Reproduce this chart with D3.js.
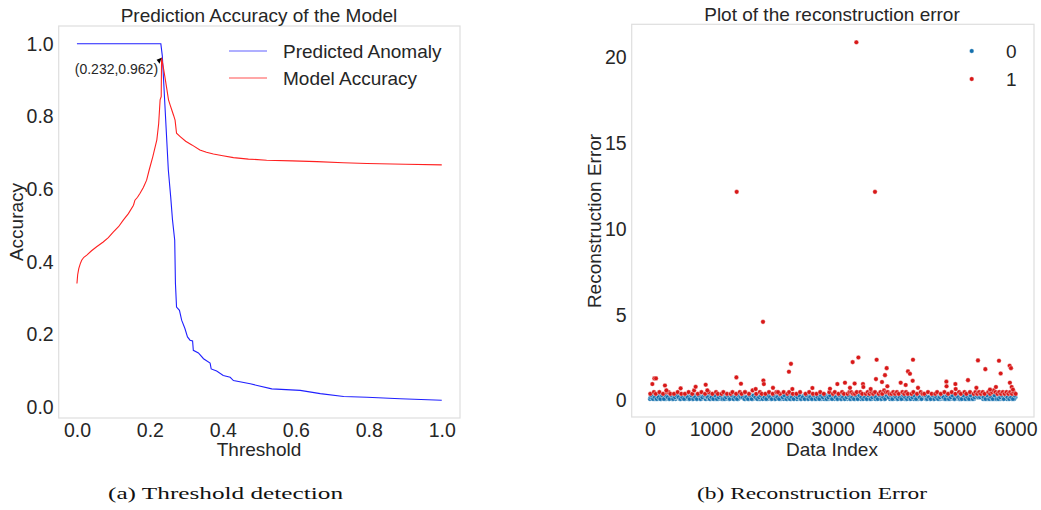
<!DOCTYPE html>
<html>
<head>
<meta charset="utf-8">
<script src="https://cdn.jsdelivr.net/npm/d3@7"></script>
<style>
  body { margin: 0; background: #fff; }
  svg text { font-family: "Liberation Sans", Arial, sans-serif; fill: #262626; }
</style>
</head>
<body>
<div id="chart"></div>
<script>
// ---- panel (a): threshold curves ----
var anomThr = [0, 0.230, 0.234, 0.2505, 0.257, 0.262, 0.268, 0.270, 0.273, 0.281, 0.287, 0.296, 0.303, 0.310, 0.317, 0.319, 0.333, 0.347, 0.365, 0.368, 0.383, 0.401, 0.420, 0.429, 0.475, 0.534, 0.612, 0.667, 0.731, 0.795, 0.886, 1.0];
var anomVal = [1.0, 1.0, 0.967, 0.653, 0.579, 0.515, 0.460, 0.341, 0.276, 0.267, 0.240, 0.217, 0.194, 0.185, 0.183, 0.157, 0.150, 0.134, 0.122, 0.106, 0.100, 0.088, 0.083, 0.074, 0.065, 0.051, 0.047, 0.038, 0.030, 0.028, 0.024, 0.020];

var accThr = [0, 0.002, 0.005, 0.009, 0.013, 0.019, 0.027, 0.040, 0.054, 0.072, 0.086, 0.100, 0.114, 0.127, 0.141, 0.155, 0.159, 0.166, 0.173, 0.182, 0.191, 0.198, 0.208, 0.219, 0.224, 0.228, 0.231, 0.232, 0.236, 0.241, 0.246, 0.251, 0.256, 0.260, 0.265, 0.269, 0.273, 0.283, 0.298, 0.315, 0.337, 0.355, 0.374, 0.400, 0.429, 0.470, 0.520, 0.590, 0.658, 0.730, 0.795, 0.900, 1.0];
var accVal = [0.341, 0.365, 0.382, 0.395, 0.405, 0.413, 0.419, 0.431, 0.442, 0.455, 0.467, 0.483, 0.497, 0.515, 0.533, 0.556, 0.570, 0.578, 0.589, 0.605, 0.625, 0.653, 0.690, 0.736, 0.780, 0.846, 0.855, 0.962, 0.940, 0.910, 0.878, 0.846, 0.830, 0.818, 0.803, 0.790, 0.754, 0.745, 0.732, 0.722, 0.708, 0.702, 0.697, 0.692, 0.687, 0.683, 0.680, 0.678, 0.676, 0.673, 0.671, 0.669, 0.667];

var bestPoint = [0.232, 0.962];
var thrTicks = [0, 0.2, 0.4, 0.6, 0.8, 1.0];
var accTicks = [0, 0.2, 0.4, 0.6, 0.8, 1.0];

// ---- panel (b): reconstruction error ----
// dense band near zero, one digit per point = error in tenths
var bandStep = 30;
var blueBandA = "1231321231" + "2312132123" + "3121321312" + "2131231321" + "1321231213" +
                "2312131232" + "1231321213" + "3212312131" + "2131213231" + "1323121312" +
                "2121313212" + "3213121321" + "1232131213" + "2313212132" + "1213213123" +
                "3121312321" + "2131232131" + "1312131232" + "2321312131" + "1213231213" + "2";
var blueBandB = "2312131213" + "1213231231" + "3121312123" + "1231213132" + "2131321213" +
                "3212131231" + "1323121312" + "2131213123" + "1312321213" + "3121213132" +
                "2313121321" + "1212313213" + "3121321312" + "2131213231" + "1323121213" +
                "2121313212" + "3213121231" + "1231312132" + "2312121313" + "3121312321";
var blueBandC = "3121213132" + "1312321213" + "2131213123" + "3212131231" + "1231312132" +
                "2121313212" + "3121321312" + "1323121213" + "2312131213" + "1213231231" +
                "3213121231" + "2131321213" + "1232131213" + "2313212132" + "1212313213" +
                "3121312123" + "2131231321" + "1312131232" + "2321312131" + "1231321213";
var redBand = "4.54.5.4.5" + "54.4.5.4.4" + ".5.46.4.5." + "4.5.4.54.4" + "5.4.45.4.5" +
              "4.5.4.6.4." + "54.4.5.4.5" + ".4.5.45.4." + "4.5..4.5.4" + ".4.5.4..5." +
              "45.4.54.45" + "5445.54.45" + "4545.45465" + "5445454.54" + "54.45.4.54" +
              "4.5.4.45.4" + ".5.4.5.4.5" + "4.54.5.454" + "5454.54565" + "4545454545" + "4";
// anomalies standing out above the band
var redIdx = [39, 72, 99, 246, 269, 504, 750, 915, 942, 1419, 1424, 1494, 1560, 1736, 1856, 1862, 1870, 2020, 2102, 2282, 2315, 2338, 2667, 2956, 3077, 3202, 3284, 3328, 3361, 3389, 3422, 3498, 3504, 3624, 3695, 3711, 3722, 3810, 3859, 3887, 3898, 4117, 4199, 4237, 4269, 4314, 4319, 4401, 4867, 4870, 5015, 5020, 5222, 5360, 5386, 5507, 5583, 5681, 5731, 5759, 5906, 5910, 5928, 5939, 5960];
var redErr = [0.97, 1.30, 1.30, 0.89, 0.60, 0.72, 0.81, 0.93, 0.60, 1.36, 12.18, 0.99, 0.50, 0.68, 4.60, 1.18, 0.97, 0.75, 0.50, 1.69, 2.15, 0.68, 0.74, 0.70, 0.97, 1.05, 0.75, 2.25, 1.00, 20.90, 2.52, 0.97, 0.80, 0.68, 12.18, 1.26, 2.39, 1.09, 1.49, 1.90, 0.84, 1.05, 0.92, 1.71, 1.57, 1.16, 2.39, 0.75, 1.11, 0.84, 0.97, 0.68, 1.20, 0.75, 2.35, 1.84, 0.65, 0.80, 2.33, 1.59, 2.04, 1.05, 1.90, 0.80, 0.65];
var idxTicks = [0, 1000, 2000, 3000, 4000, 5000, 6000];
var errTicks = [0, 5, 10, 15, 20];
var classLabels = ["0", "1"];

var W = 1041, H = 510;
var svg = d3.select("#chart").append("svg").attr("width", W).attr("height", H);

function frame(g, x0, y0, x1, y1) {
    g.append("rect")
        .attr("x", x0).attr("y", y0)
        .attr("width", x1 - x0).attr("height", y1 - y0)
        .style("fill", "none")
        .style("stroke", "#dedede")
        .style("stroke-width", 1.2);
}

function axes(g, x, y, xt, yt, xfmt, yfmt) {
    var xa = g.append("g")
        .attr("transform", "translate(0," + y.range()[0] + ")")
        .call(d3.axisBottom(x).tickValues(xt).tickFormat(xfmt).tickSize(0).tickPadding(5));
    var ya = g.append("g")
        .attr("transform", "translate(" + x.range()[0] + ",0)")
        .call(d3.axisLeft(y).tickValues(yt).tickFormat(yfmt).tickSize(0).tickPadding(5));
    [xa, ya].forEach(function(a){
        a.select(".domain").remove();
        a.attr("font-size", 19.5).attr("font-family", "Liberation Sans, Arial, sans-serif");
        a.selectAll(".tick text").style("font-size", "19.5px").attr("fill", "#262626");
    });
}

// ---------- left panel ----------
var gL = svg.append("g");
var xL = d3.scaleLinear().domain([-0.05, 1.05]).range([58.7, 460]);
var yL = d3.scaleLinear().domain([-0.029, 1.049]).range([418, 26]);
frame(gL, 58.7, 26, 460, 418);
axes(gL, xL, yL, thrTicks, accTicks, d3.format(".1f"), d3.format(".1f"));

var lineL = d3.line().x(function(d){ return xL(d[0]); }).y(function(d){ return yL(d[1]); });
gL.append("path")
    .datum(d3.zip(anomThr, anomVal))
    .attr("d", lineL)
    .style("fill", "none").style("stroke", "#2020ff").style("stroke-width", 1.1);
gL.append("path")
    .datum(d3.zip(accThr, accVal))
    .attr("d", lineL)
    .style("fill", "none").style("stroke", "#ff2020").style("stroke-width", 1.1);

// annotation of the best threshold
var px = xL(bestPoint[0]), py = yL(bestPoint[1]);
gL.append("path")
    .attr("d", "M" + px + "," + py + " L" + (px - 5) + "," + (py + 2) + " L" + (px - 2) + "," + (py + 6) + " Z")
    .style("fill", "#000");
gL.append("text")
    .attr("x", px - 3.5).attr("y", py + 16)
    .attr("text-anchor", "end")
    .style("font-size", "14px")
    .text("(" + bestPoint[0] + "," + bestPoint[1] + ")");

gL.append("text").attr("x", 259).attr("y", 22).attr("text-anchor", "middle")
    .style("font-size", "19px").text("Prediction Accuracy of the Model");
gL.append("text").attr("x", 259).attr("y", 456).attr("text-anchor", "middle")
    .style("font-size", "19px").text("Threshold");
gL.append("text").attr("transform", "translate(23,222) rotate(-90)").attr("text-anchor", "middle")
    .style("font-size", "19px").text("Accuracy");

var legL = [["Predicted Anomaly", "#6060ff"], ["Model Accuracy", "#ff5050"]];
legL.forEach(function(d, i){
    var ly = 51 + i * 27;
    gL.append("line").attr("x1", 229).attr("x2", 267).attr("y1", ly).attr("y2", ly)
        .style("stroke", d[1]).style("stroke-width", 1.2);
    gL.append("text").attr("x", 283).attr("y", ly + 7).style("font-size", "19px").text(d[0]);
});

// ---------- right panel ----------
var gR = svg.append("g");
var xR = d3.scaleLinear().domain([-300, 6306]).range([631.7, 1034]);
var yR = d3.scaleLinear().domain([-0.95, 21.95]).range([417, 24.3]);
frame(gR, 631.7, 24.3, 1034, 417);
axes(gR, xR, yR, idxTicks, errTicks, d3.format("d"), d3.format("d"));

var blueColor = "#1470ad", redColor = "#d81818";
var bluePts = [];
[[blueBandA, 0], [blueBandB, 10], [blueBandC, 20]].forEach(function(b){
    b[0].split("").forEach(function(c, i){ bluePts.push([b[1] + i * bandStep, +c / 10]); });
});
var redPts = [];
redBand.split("").forEach(function(c, i){ if (c !== ".") redPts.push([5 + i * bandStep, +c / 10]); });
redIdx.forEach(function(v, i){ redPts.push([v, redErr[i]]); });

function dots(data, color) {
    gR.append("g").selectAll("circle").data(data).enter().append("circle")
        .attr("cx", function(d){ return xR(d[0]); })
        .attr("cy", function(d){ return yR(d[1]); })
        .attr("r", 2.3)
        .style("fill", color)
        .style("stroke", "#fff")
        .style("stroke-width", 0.4);
}
dots(bluePts, blueColor);
dots(redPts, redColor);

gR.append("text").attr("x", 832).attr("y", 21).attr("text-anchor", "middle")
    .style("font-size", "19px").text("Plot of the reconstruction error");
gR.append("text").attr("x", 832).attr("y", 456).attr("text-anchor", "middle")
    .style("font-size", "19px").text("Data Index");
gR.append("text").attr("transform", "translate(601,221) rotate(-90)").attr("text-anchor", "middle")
    .style("font-size", "19px").text("Reconstruction Error");

[blueColor, redColor].forEach(function(c, i){
    var ly = 51 + i * 28;
    gR.append("circle").attr("cx", 971.7).attr("cy", ly).attr("r", 2.3)
        .style("fill", c).style("stroke", "#fff").style("stroke-width", 0.4);
    gR.append("text").attr("x", 1006).attr("y", ly + 7).style("font-size", "19px").text(classLabels[i]);
});

// ---------- captions ----------
svg.append("text").attr("x", 108).attr("y", 499)
    .attr("textLength", 235).attr("lengthAdjust", "spacingAndGlyphs")
    .style("font-family", "Liberation Serif, serif").style("font-size", "16px").style("fill", "#111")
    .text("(a) Threshold detection");
svg.append("text").attr("x", 697).attr("y", 499)
    .attr("textLength", 230).attr("lengthAdjust", "spacingAndGlyphs")
    .style("font-family", "Liberation Serif, serif").style("font-size", "16px").style("fill", "#111")
    .text("(b) Reconstruction Error");
</script>
</body>
</html>
